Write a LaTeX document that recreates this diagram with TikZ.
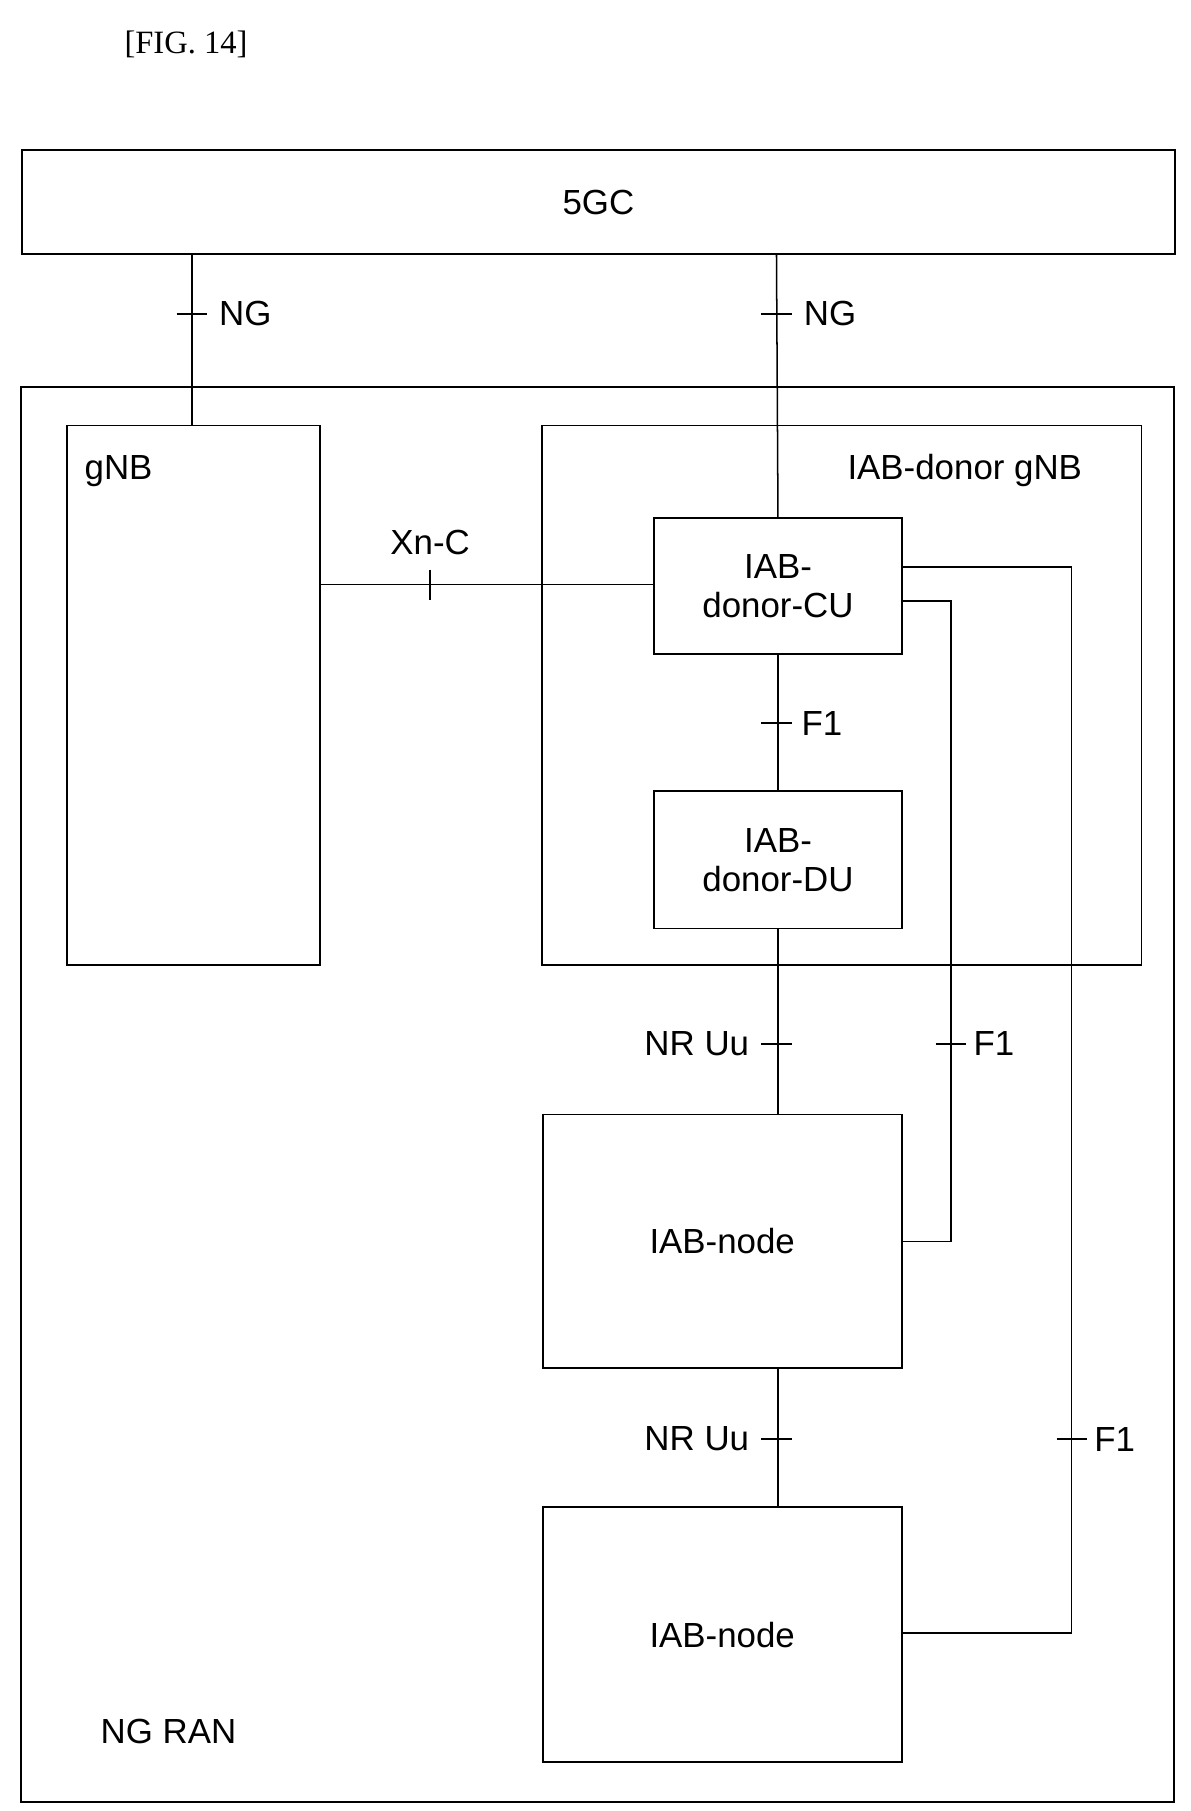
\documentclass[tikz,border=0pt]{standalone}
\usepackage{fontspec}
\setmainfont{Liberation Sans}
\newfontfamily\titlefont{Liberation Serif}
\begin{document}
\begin{tikzpicture}[x=1pt,y=-1pt,
  box/.style={draw,line width=1.6pt},
  ln/.style={line width=1.3pt},
  lbl/.style={font=\fontsize{30}{34}\selectfont},
  tick/.style={line width=1.3pt}]
\useasboundingbox (0,0) rectangle (1024,1558);
\node[font=\fontsize{28}{32}\titlefont] (title) at (160,38) {[FIG. 14]};
\node[box,minimum width=992pt,minimum height=90pt,anchor=north west,lbl] (gc) at (18,128) {5GC};
\draw[box] (18,333) rectangle (1010,1550);
\coordinate (ranl) at (145,1490); \node[lbl] (ran) at (ranl) {NG RAN};
\draw[box] (58,366) rectangle (275,830);
\node[lbl] (gnbl) at (102,405) {gNB};
\draw[box] (466,366) rectangle (982,830);
\node[lbl] (donl) at (830,405) {IAB-donor gNB};
\node[box,minimum width=213pt,minimum height=117pt,anchor=north west,align=center,lbl] (cu) at (562,445) {IAB-\\donor-CU};
\node[box,minimum width=213pt,minimum height=118pt,anchor=north west,align=center,lbl] (du) at (562,680) {IAB-\\donor-DU};
\node[box,minimum width=309pt,minimum height=218pt,anchor=north west,lbl] (n1) at (466,958) {IAB-node};
\node[box,minimum width=309pt,minimum height=219pt,anchor=north west,lbl] (n2) at (466,1296) {IAB-node};
\coordinate (g1) at (165,366);
\draw[ln] (g1) -- (165,218);
\draw[tick] (152,270) -- (178,270); \node[lbl,anchor=west] at (185,270) {NG};
\draw[ln] (cu.north) -- (668,218);
\draw[tick] (655,270) -- (681,270); \node[lbl,anchor=west] at (688,270) {NG};
\coordinate (gx) at (275,503);
\draw[ln] (gx) -- (562,503);
\draw[tick] (370,490) -- (370,516); \node[lbl] at (370,467) {Xn-C};
\draw[ln] (cu.south) -- (du.north);
\draw[tick] (655,622) -- (681,622); \node[lbl,anchor=west] at (686,622) {F1};
\draw[ln] (du.south) -- (n1.north -| du.south);
\draw[tick] (655,898) -- (681,898); \node[lbl,anchor=east] at (648,898) {NR Uu};
\draw[ln] (n1.south -| du.south) -- (n2.north -| du.south);
\draw[tick] (655,1238) -- (681,1238); \node[lbl,anchor=east] at (648,1238) {NR Uu};
\draw[ln] (775,517) -- (818,517) -- (818,1068) -- (775,1068);
\draw[tick] (805,898) -- (831,898); \node[lbl,anchor=west] at (834,898) {F1};
\draw[ln] (775,488) -- (922,488) -- (922,1405) -- (775,1405);
\draw[tick] (909,1238) -- (935,1238); \node[lbl,anchor=west] at (938,1238) {F1};
\end{tikzpicture}
\end{document}
